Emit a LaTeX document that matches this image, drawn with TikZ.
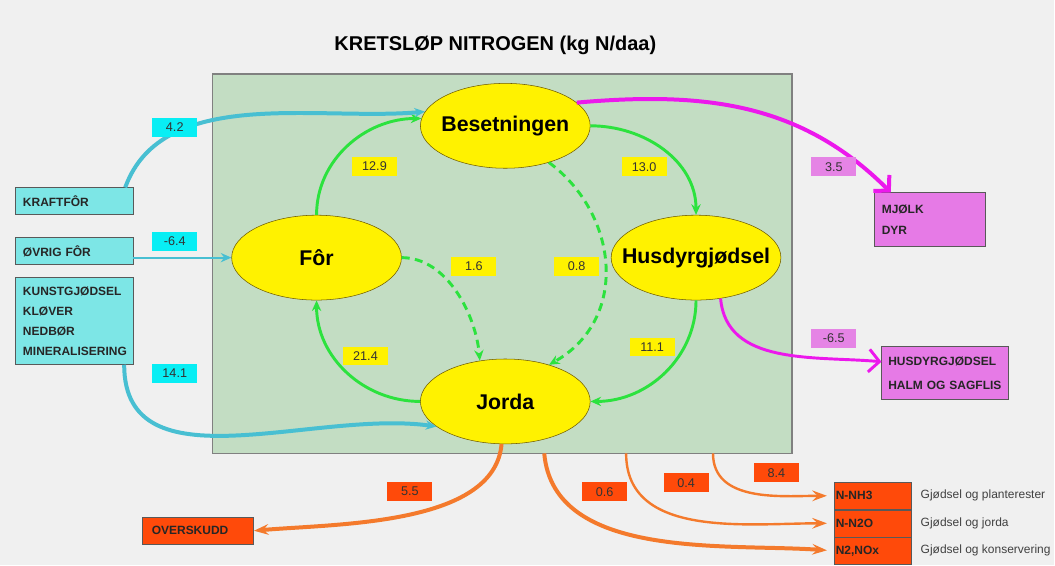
\documentclass[tikz,border=0pt]{standalone}
\usepackage{fontspec}
\setmainfont{Liberation Sans}
\usepackage{tikz}
\usetikzlibrary{shapes.geometric,arrows.meta,positioning}

\definecolor{bggray}{HTML}{F0F0F0}
\definecolor{farmgreen}{HTML}{C3DDC3}
\definecolor{flowgreen}{HTML}{2CE23E}
\definecolor{ellborder}{HTML}{6E5A00}
\definecolor{cyanline}{HTML}{48BFD2}
\definecolor{cyanbox}{HTML}{7DE6E6}
\definecolor{cyanlab}{HTML}{08EEF4}
\definecolor{magline}{HTML}{EC18EC}
\definecolor{magbox}{HTML}{E67AE6}
\definecolor{maglab}{HTML}{E584E5}
\definecolor{orline}{HTML}{F47A2C}
\definecolor{orbox}{HTML}{FF4A0A}

\begin{document}
\begin{tikzpicture}[x=0.75pt,y=-0.75pt,
    ell/.style={ellipse, draw=ellborder, fill=yellow, inner sep=0pt,
      minimum width=127.5pt, minimum height=63.75pt,
      label={[font=\bfseries\fontsize{16}{19}\selectfont]center:#1}},
    lab/.style={fill=#1, inner sep=0pt, minimum width=33.75pt, minimum height=14.25pt,
      text=black!80, font=\fontsize{9.5}{11}\selectfont},
    fbox/.style={draw=black!65, fill=#1, align=left, text=black!85,
      font=\bfseries\fontsize{9}{15}\selectfont},
    gflow/.style={flowgreen, line width=2.2pt, -{Stealth[length=8pt,width=7pt]}},
    cflow/.style={cyanline, line width=3pt, -{Stealth[length=8pt,width=7pt]}},
    mflow/.style={magline, line width=3pt, -{Straight Barb[length=8pt,width=17pt]}},
    oflow/.style={orline, line width=3pt, -{Stealth[length=11pt,width=8pt,inset=4pt]}},
    gasnote/.style={text=black!75, font=\fontsize{9}{11}\selectfont}]

  \fill[bggray] (0,0) rectangle (1055,566);
  \node[font=\bfseries\fontsize{15}{18}\selectfont] (title) at (496,45) {KRETSLØP NITROGEN (kg N/daa)};

  % the farm
  \node[draw=black!50, fill=farmgreen, line width=1.1pt, inner sep=0pt,
    minimum width=435pt, minimum height=285pt] (farm) at (503,264) {};

  \node[ell=Besetningen] (beset) at (506,126) {};
  \node[ell=Fôr] (for) at (317,258) {};
  \node[ell=Husdyrgjødsel] (husdyr) at (697,258) {};
  \node[ell=Jorda] (jorda) at (506,402) {};

  \draw[gflow] (for.north) to[out=90,in=180] (beset.175);
  \draw[gflow] (beset.east) to[out=0,in=90] (husdyr.north);
  \draw[gflow] (husdyr.south) to[out=-90,in=0] (jorda.east);
  \draw[gflow] (jorda.west) to[out=180,in=-90] (for.south);
  \draw[gflow, dash pattern=on 6pt off 4pt] (for.east) to[out=0,in=95,looseness=0.9] (jorda.122);
  \draw[gflow, dash pattern=on 6pt off 4pt] (beset.-40) .. controls (620,215) and (630,320) .. (jorda.40);

  \node[lab=yellow] (l129) at (375,166.5) {12.9};
  \node[lab=yellow] (l130) at (645,167) {13.0};
  \node[lab=yellow] (l16) at (474.5,266.5) {1.6};
  \node[lab=yellow] (l08) at (577.5,266.5) {0.8};
  \node[lab=yellow] (l214) at (366,356.5) {21.4};
  \node[lab=yellow] (l111) at (653,347.5) {11.1};

  % inputs
  \node[fbox=cyanbox, text width=76.5pt, inner xsep=6pt, minimum height=20.25pt] (kraft) at (74,201.5) {KRAFTFÔR};
  \node[fbox=cyanbox, text width=76.5pt, inner xsep=6pt, minimum height=20.25pt] (ovrig) at (74,251.5) {ØVRIG FÔR};
  \node[fbox=cyanbox, text width=76.5pt, inner xsep=6pt, minimum height=65.25pt] (kunst) at (74,321.5)
    {KUNSTGJØDSEL\\KLØVER\\NEDBØR\\MINERALISERING};

  \draw[cflow] (kraft.15) to[out=70,in=185,looseness=0.9] (beset.170);
  \draw[cflow, line width=1.6pt] (ovrig.east |- for.west) -- (for.west);
  \draw[cflow] (kunst.-41) to[out=-90,in=172] (jorda.200);

  \node[lab=cyanlab] (l42) at (175,127.5) {4.2};
  \node[lab=cyanlab] (l64) at (175,241.5) {-6.4};
  \node[lab=cyanlab] (l141) at (175,374) {14.1};

  % products
  \node[fbox=magbox, text width=72pt, inner xsep=6pt, minimum height=40.5pt,
    font=\bfseries\fontsize{9}{16.5}\selectfont] (mjolk) at (931,220) {MJØLK\\DYR};
  \node[fbox=magbox, text width=85.5pt, inner xsep=4.9pt, minimum height=39.75pt,
    font=\bfseries\fontsize{9}{18}\selectfont] (hdbox) at (946.5,373.5) {HUSDYRGJØDSEL\\HALM OG SAGFLIS};

  \draw[mflow] (beset.18) to[out=5,in=135] (mjolk.145);
  \draw[mflow, line width=2.2pt] (husdyr.-59) to[out=-85,in=175] (hdbox.170);

  \node[lab=maglab] (l35) at (835,167) {3.5};
  \node[lab=maglab] (l65) at (835,339) {-6.5};

  % losses
  \node[fbox=orbox, text width=69pt, inner xsep=7.5pt, minimum height=20.25pt] (oversk) at (198,531.5) {OVERSKUDD};
  \node[fbox=orbox, text width=55.5pt, inner xsep=1.5pt, minimum height=20.25pt] (nnh3) at (874,496.5) {N-NH3};
  \node[fbox=orbox, text width=55.5pt, inner xsep=1.5pt, minimum height=20.25pt, below=0pt of nnh3] (nn2o) {N-N2O};
  \node[fbox=orbox, text width=55.5pt, inner xsep=1.5pt, minimum height=20.25pt, below=0pt of nn2o] (n2nox) {N2,NOx};

  \node[gasnote, right=3pt of nnh3] (t1) {Gjødsel og planterester};
  \node[gasnote, right=3pt of nn2o] (t2) {Gjødsel og jorda};
  \node[gasnote, right=3pt of n2nox] (t3) {Gjødsel og konservering};

  \coordinate (o06) at (545,454);
  \coordinate (o04) at (627,454);
  \coordinate (o84) at (714,454);

  \draw[oflow] (jorda.-95) to[out=-95,in=5,looseness=0.8] (oversk.east);
  \draw[oflow, shorten >=5pt] (o06) to[out=-85,in=176,looseness=0.9] (n2nox.west);
  \draw[oflow, line width=1.8pt, shorten >=5pt] (o04) to[out=-90,in=180] (nn2o.west);
  \draw[oflow, line width=1.8pt, shorten >=5pt] (o84) to[out=-90,in=180] (nnh3.west);

  \node[lab=orbox] (l55) at (410.5,492) {5.5};
  \node[lab=orbox] (l06) at (605.5,492.5) {0.6};
  \node[lab=orbox] (l04) at (687,483.5) {0.4};
  \node[lab=orbox] (l84) at (777.5,473.5) {8.4};
\end{tikzpicture}
\end{document}
